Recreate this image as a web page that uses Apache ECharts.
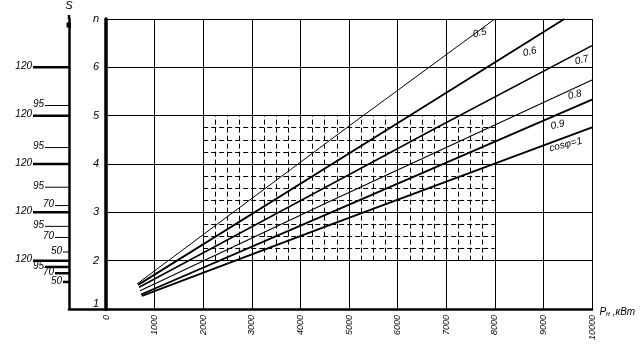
<!DOCTYPE html>
<html><head><meta charset="utf-8">
<script src="https://cdn.jsdelivr.net/npm/echarts@6/dist/echarts.min.js"></script>
<style>html,body{margin:0;padding:0;background:#fff}#c{width:642px;height:345px}</style>
</head><body><div id="c"></div>
<script>
// ---- data ----
const curveNames = ['0.5', '0.6', '0.7', '0.8', '0.9', 'cosφ=1'];
const curve05 = [[640, 1.52], [4980, 4.77], [8000, 7.0]];
const curve06 = [[660, 1.50], [5800, 4.72], [9430, 7.0]];
const curve07 = [[680, 1.45], [6800, 4.75], [10000, 6.45]];
const curve08 = [[700, 1.38], [4610, 3.23], [10000, 5.74]];
const curve09 = [[720, 1.30], [4610, 2.99], [10000, 5.33]];
const curve10 = [[740, 1.27], [4610, 2.74], [10000, 4.76]];
const curveLabelAt = [[7690, 6.71], [8720, 6.32], [9790, 6.15], [9644, 5.43], [9294, 4.81], [9460, 4.40]];

// left S scale (kVA values and their n positions)
const sValues    = [120, 95, 120, 95, 120, 95, 70, 120, 95, 70, 50, 120, 95, 70, 50];
const sPositions = [6, 5.21, 5, 4.34, 4, 3.52, 3.14, 3, 2.71, 2.48, 2.18, 2, 1.87, 1.74, 1.56];

// dashed fine grid region
const fineX = [2000, 8000], fineY = [2, 5];
const fineStepX = 250, fineStepY = 0.25;

// ---- styling ----
const FONT = "'Liberation Sans Narrow','Liberation Sans',sans-serif";
const curveWidths = [1, 1.9, 1.5, 1.1, 1.9, 1.9];
const curves = [curve05, curve06, curve07, curve08, curve09, curve10];

const fineLines = [];
for (let x = fineX[0] + fineStepX; x < fineX[1]; x += fineStepX) {
  if (x % 1000 === 0) continue;
  fineLines.push([{coord: [x, fineY[0]]}, {coord: [x, fineY[1]]}]);
}
for (let y = fineY[0] + fineStepY; y < fineY[1] - 1e-9; y += fineStepY) {
  if (Math.abs(y - Math.round(y)) < 1e-9) continue;
  fineLines.push([{coord: [fineX[0], y]}, {coord: [fineX[1], y]}]);
}

function sStyle(v, n) {
  const len = v === 120 ? 36 : v === 95 ? 24 : v === 70 ? 14 : 6;
  const w = (n <= 2.05 || v === 120) ? 2.5 : 1;
  return {len, w};
}

const series = curves.map((d, i) => ({
  type: 'line', xAxisIndex: 0, yAxisIndex: 0, data: d, showSymbol: false, silent: true,
  lineStyle: {color: '#000', width: curveWidths[i]},
  markPoint: {
    symbol: 'circle', symbolSize: 0, silent: true,
    data: [{coord: curveLabelAt[i], value: curveNames[i]}],
    label: {show: true, position: 'inside', formatter: curveNames[i], color: '#000',
      fontFamily: FONT, fontStyle: 'italic', fontSize: 10, rotate: 14}
  }
}));
series.push({
  type: 'line', xAxisIndex: 0, yAxisIndex: 0, data: [], silent: true,
  markLine: {symbol: ['none', 'none'], silent: true, label: {show: false},
    lineStyle: {color: '#000', type: [5, 3], width: 1}, data: fineLines}
});
series.push({
  type: 'custom', xAxisIndex: 1, yAxisIndex: 1, silent: true, clip: false,
  data: sValues.map((v, i) => [0, sPositions[i], v]),
  encode: {x: 0, y: 1},
  renderItem: function (params, api) {
    const n = api.value(1), v = api.value(2);
    const p = api.coord([0, n]);
    const st = sStyle(v, n);
    return {type: 'group', children: [
      {type: 'line', shape: {x1: p[0] - st.len, y1: p[1], x2: p[0], y2: p[1]},
        style: {stroke: '#000', lineWidth: st.w}},
      {type: 'text', style: {text: String(v), x: p[0] - st.len - 1, y: p[1] - 1,
        align: 'right', verticalAlign: 'middle', fill: '#000',
        font: 'italic 10px ' + FONT}}
    ]};
  }
});

const chart = echarts.init(document.getElementById('c'), null, {renderer: 'canvas'});
chart.setOption({
  backgroundColor: '#fff',
  animation: false,
  grid: [
    {left: 106, top: 19, width: 486, height: 290},
    {left: 69, top: 19, width: 37, height: 290}
  ],
  xAxis: [
    {type: 'value', gridIndex: 0, min: 0, max: 10000, interval: 1000,
      axisLine: {show: true, onZero: false, lineStyle: {color: '#000', width: 2.5}},
      axisTick: {show: false},
      axisLabel: {rotate: 90, margin: 6, color: '#000', fontFamily: FONT, fontStyle: 'italic', fontSize: 9,
        formatter: v => String(v)},
      splitLine: {show: true, lineStyle: {color: '#000', width: 1}},
      name: '{a|P}{s|н}{a| ,кВт}', nameLocation: 'end', nameGap: 6,
      nameTextStyle: {padding: [6, 0, 0, 0], rich: {
        a: {fontFamily: FONT, fontStyle: 'italic', fontSize: 10, color: '#000'},
        s: {fontFamily: FONT, fontStyle: 'italic', fontSize: 7, color: '#000', padding: [5, 0, 0, 0]}
      }}},
    {type: 'value', gridIndex: 1, min: 0, max: 1, show: true,
      axisLine: {show: true, onZero: false, lineStyle: {color: '#000', width: 2.5}},
      axisTick: {show: false}, axisLabel: {show: false}, splitLine: {show: false}}
  ],
  yAxis: [
    {type: 'value', gridIndex: 0, min: 1, max: 7, interval: 1,
      axisLine: {show: true, onZero: false, lineStyle: {color: '#000', width: 3.5}},
      axisTick: {show: false},
      axisLabel: {margin: 7, color: '#000', fontFamily: FONT, fontStyle: 'italic', fontSize: 11,
        formatter: v => v === 7 ? 'n' : String(v), verticalAlignMinLabel: 'bottom'},
      splitLine: {show: true, lineStyle: {color: '#000', width: 1}}},
    {type: 'value', gridIndex: 1, min: 1, max: 7, interval: 1, position: 'left',
      axisLine: {show: true, onZero: false, lineStyle: {color: '#000', width: 2.5}},
      axisTick: {show: false}, axisLabel: {show: false}, splitLine: {show: false},
      name: 'S', nameLocation: 'end', nameGap: 8,
      nameTextStyle: {color: '#000', fontFamily: FONT, fontStyle: 'italic', fontSize: 11}}
  ],
  graphic: [
    {type: 'line', shape: {x1: 69, y1: 15, x2: 69, y2: 19}, style: {stroke: '#000', lineWidth: 2.5}},
    {type: 'rect', shape: {x: 66.5, y: 22.5, width: 4.5, height: 5}, style: {fill: '#000'}}
  ],
  series: series
});
</script></body></html>
